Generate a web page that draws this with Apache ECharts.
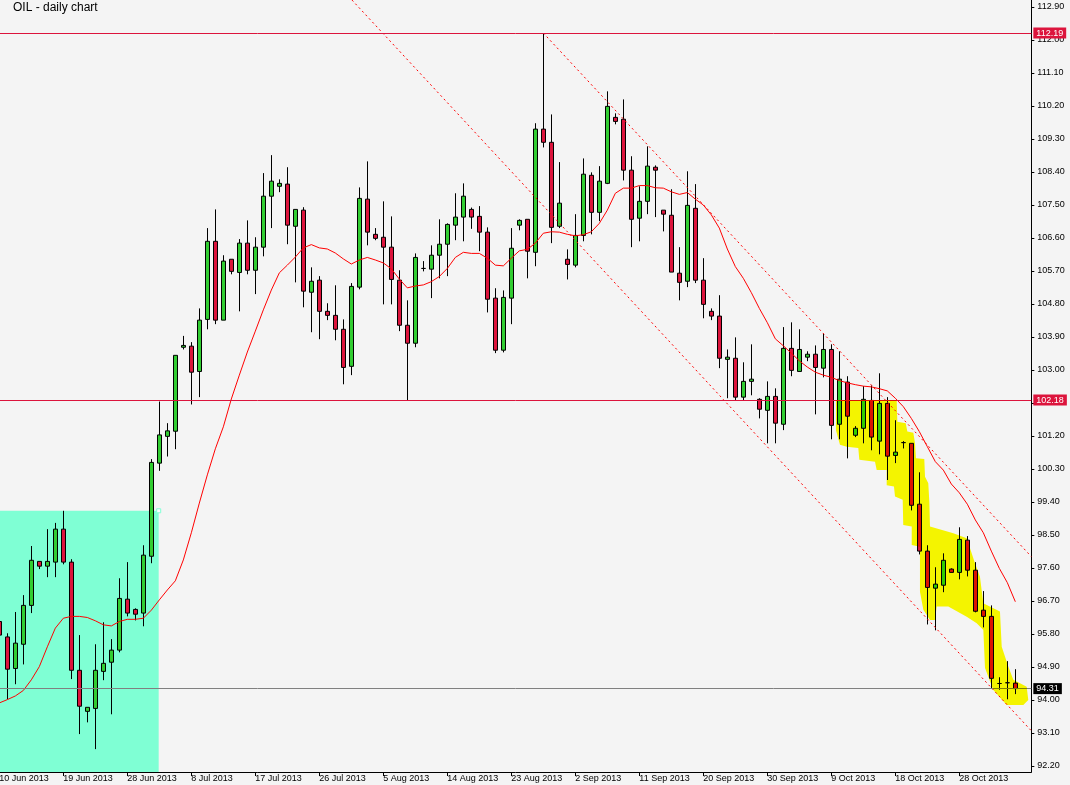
<!DOCTYPE html>
<html>
<head>
<meta charset="utf-8">
<script src="https://cdn.jsdelivr.net/npm/echarts@6/dist/echarts.min.js"></script>
<style>
html,body{margin:0;padding:0;background:#f4f4f4;}
#chart{width:1070px;height:785px;}
</style>
</head>
<body>
<div id="chart"></div>
<script>
// ---------- DATA ----------
const TITLE = 'OIL - daily chart';

const categories = [
 '10 Jun 2013','11 Jun 2013','12 Jun 2013','13 Jun 2013','14 Jun 2013','16 Jun 2013','17 Jun 2013','18 Jun 2013',
 '19 Jun 2013','20 Jun 2013','21 Jun 2013','23 Jun 2013','24 Jun 2013','25 Jun 2013','26 Jun 2013','27 Jun 2013',
 '28 Jun 2013','30 Jun 2013','1 Jul 2013','2 Jul 2013','3 Jul 2013','4 Jul 2013','5 Jul 2013','7 Jul 2013',
 '8 Jul 2013','9 Jul 2013','10 Jul 2013','11 Jul 2013','12 Jul 2013','14 Jul 2013','15 Jul 2013','16 Jul 2013',
 '17 Jul 2013','18 Jul 2013','19 Jul 2013','21 Jul 2013','22 Jul 2013','23 Jul 2013','24 Jul 2013','25 Jul 2013',
 '26 Jul 2013','28 Jul 2013','29 Jul 2013','30 Jul 2013','31 Jul 2013','1 Aug 2013','2 Aug 2013','4 Aug 2013',
 '5 Aug 2013','6 Aug 2013','7 Aug 2013','8 Aug 2013','9 Aug 2013','11 Aug 2013','12 Aug 2013','13 Aug 2013',
 '14 Aug 2013','15 Aug 2013','16 Aug 2013','18 Aug 2013','19 Aug 2013','20 Aug 2013','21 Aug 2013','22 Aug 2013',
 '23 Aug 2013','25 Aug 2013','26 Aug 2013','27 Aug 2013','28 Aug 2013','29 Aug 2013','30 Aug 2013','1 Sep 2013',
 '2 Sep 2013','3 Sep 2013','4 Sep 2013','5 Sep 2013','6 Sep 2013','8 Sep 2013','9 Sep 2013','10 Sep 2013',
 '11 Sep 2013','12 Sep 2013','13 Sep 2013','15 Sep 2013','16 Sep 2013','17 Sep 2013','18 Sep 2013','19 Sep 2013',
 '20 Sep 2013','22 Sep 2013','23 Sep 2013','24 Sep 2013','25 Sep 2013','26 Sep 2013','27 Sep 2013','29 Sep 2013',
 '30 Sep 2013','1 Oct 2013','2 Oct 2013','3 Oct 2013','4 Oct 2013','6 Oct 2013','7 Oct 2013','8 Oct 2013',
 '9 Oct 2013','10 Oct 2013','11 Oct 2013','13 Oct 2013','14 Oct 2013','15 Oct 2013','16 Oct 2013','17 Oct 2013',
 '18 Oct 2013','20 Oct 2013','21 Oct 2013','22 Oct 2013','23 Oct 2013','24 Oct 2013','25 Oct 2013','27 Oct 2013',
 '28 Oct 2013','29 Oct 2013','30 Oct 2013','31 Oct 2013','1 Nov 2013','3 Nov 2013','4 Nov 2013','5 Nov 2013'
];

const opens = [
 96.14,95.72,94.86,95.52,96.58,97.78,97.65,97.76,98.66,97.76,94.81,93.69,93.77,94.78,95.03,95.36,
 96.75,96.47,96.37,97.92,100.46,101.19,101.33,103.62,103.65,102.96,104.38,106.51,104.36,106.02,105.66,106.46,
 105.72,106.35,107.74,108.01,108.07,106.92,107.36,105.12,105.45,104.60,104.49,104.11,103.10,105.26,107.66,106.70,
 106.62,106.35,105.45,104.22,103.73,105.77,105.75,106.13,106.43,106.95,107.17,107.38,107.19,106.76,104.96,103.54,
 104.96,106.95,107.11,106.21,109.57,109.21,106.92,106.02,105.86,106.67,108.31,107.30,108.09,109.89,109.84,108.45,
 107.14,107.60,108.53,107.36,107.22,105.64,105.42,107.41,105.45,104.60,104.47,103.29,103.32,102.26,102.69,102.20,
 101.90,102.28,101.52,103.59,102.96,103.35,103.43,103.05,103.56,101.52,102.67,101.22,101.41,102.17,101.06,102.09,
 100.67,101.02,101.00,99.34,98.06,97.05,97.13,97.57,97.48,98.36,97.54,96.45,96.28,94.45,94.47,94.46
];
const closes = [
 95.77,94.84,95.55,96.58,97.81,97.65,97.78,98.66,97.76,94.81,93.83,93.80,94.81,95.00,95.36,96.77,
 96.37,96.34,97.95,100.48,101.23,101.34,103.40,103.67,102.94,104.36,106.51,104.36,105.97,105.69,106.46,105.72,
 106.35,107.74,108.15,108.09,106.95,107.38,105.15,105.42,104.60,104.49,104.11,103.07,105.28,107.68,106.76,106.59,
 106.35,105.47,104.22,103.73,106.07,105.77,106.13,106.43,106.97,107.17,107.74,107.17,106.76,104.93,103.54,104.98,
 106.32,107.08,106.24,109.57,109.21,106.89,107.55,105.88,106.67,108.34,107.30,108.15,110.19,109.78,108.45,107.11,
 107.60,108.56,108.45,107.25,105.67,105.39,107.49,105.45,104.79,104.47,103.32,103.35,102.26,102.69,102.75,101.93,
 102.28,101.55,103.59,102.99,103.56,103.43,103.07,103.56,101.49,102.75,101.74,101.41,102.20,101.17,102.09,100.65,
 100.76,101.02,99.31,98.06,97.07,97.16,97.81,97.48,98.38,97.54,96.42,96.28,94.59,94.45,94.47,94.31
];
const lows = [
 95.70,94.02,94.43,94.97,96.37,97.57,97.35,97.35,97.70,94.57,93.07,93.39,92.66,94.54,93.61,95.30,
 96.28,96.17,96.01,97.73,100.25,100.64,100.84,103.56,102.06,102.26,104.11,104.25,104.36,105.61,104.60,105.61,
 105.07,106.10,106.87,107.85,106.43,105.39,104.71,104.03,103.84,104.36,103.81,102.61,102.86,105.20,106.40,106.54,
 104.79,104.79,104.06,102.18,103.62,105.69,104.96,105.50,105.56,106.54,106.51,106.85,106.24,104.57,103.46,103.48,
 104.25,106.81,105.50,105.83,109.07,106.46,106.87,105.47,105.80,106.51,106.70,107.06,108.07,109.70,108.17,106.35,
 106.51,107.25,107.17,106.78,105.67,104.90,105.26,105.37,104.41,104.36,103.05,102.23,102.17,102.17,102.31,101.68,
 101.00,101.00,101.36,102.83,102.96,103.24,101.79,102.80,101.11,101.11,100.59,101.17,101.00,100.81,100.70,100.00,
 100.46,100.86,99.17,97.97,96.06,95.90,96.94,97.48,97.29,97.37,96.39,95.98,94.32,94.28,94.02,94.16
];
const highs = [
 96.30,95.82,96.40,96.86,98.20,97.78,98.66,98.83,99.16,97.84,95.77,93.80,95.52,96.12,95.66,97.32,
 97.76,96.50,98.22,100.57,102.14,101.55,103.40,103.93,103.76,104.68,106.87,107.38,106.13,106.02,106.57,107.08,
 106.62,108.37,108.86,108.20,108.53,107.38,107.44,105.80,105.56,104.82,105.31,104.38,105.37,107.98,108.69,106.87,
 107.60,107.19,105.72,104.90,106.18,105.97,106.40,107.11,107.00,107.82,108.09,107.43,107.47,106.89,105.23,105.17,
 106.87,107.11,107.11,109.73,112.19,109.97,108.67,106.29,107.25,108.77,108.39,108.56,110.60,110.00,110.38,108.83,
 108.01,109.10,108.58,107.36,107.93,106.35,108.42,108.07,106.05,104.68,105.04,103.56,103.89,103.21,103.70,102.23,
 102.69,102.50,104.17,104.30,104.11,103.51,103.67,103.99,103.70,103.51,102.83,101.47,102.56,102.58,102.91,102.26,
 101.63,101.06,101.00,100.21,98.22,97.62,98.00,97.59,98.71,98.47,97.76,96.97,96.58,94.62,95.06,94.84
];

// moving average (red line), one value per bar
const maValues = [
 93.92,94.01,94.11,94.26,94.55,94.91,95.45,95.96,96.23,96.28,96.28,96.25,96.16,96.05,96.02,96.14,
 96.20,96.20,96.23,96.45,96.73,97.00,97.25,97.82,98.56,99.37,100.14,100.85,101.45,102.21,102.86,103.49,
 104.06,104.64,105.18,105.65,105.86,106.08,106.33,106.42,106.33,106.30,106.19,106.03,105.89,106.00,106.07,106.00,
 105.92,105.76,105.48,105.24,105.29,105.32,105.41,105.55,105.77,106.07,106.21,106.18,106.18,106.05,105.86,105.84,
 106.05,106.25,106.29,106.46,106.73,106.77,106.76,106.70,106.66,106.69,106.77,107.00,107.36,107.82,107.96,107.96,
 108.03,108.03,107.97,107.96,107.86,107.79,107.84,107.66,107.50,107.23,106.87,106.30,105.82,105.50,105.11,104.68,
 104.29,103.85,103.66,103.46,103.25,103.08,102.94,102.86,102.80,102.71,102.65,102.60,102.56,102.54,102.49,102.43,
 102.23,102.00,101.68,101.32,100.91,100.50,100.27,99.89,99.65,99.34,98.91,98.56,98.06,97.59,97.20,96.68
];

// price axis
const Y_MIN = 92.036, Y_MAX = 113.091;
const yTicks = [92.20,93.10,94.00,94.90,95.80,96.70,97.60,98.50,99.40,100.30,101.20,102.10,
                103.00,103.90,104.80,105.70,106.60,107.50,108.40,109.30,110.20,111.10,112.00,112.90];

// horizontal levels
const levelValues = [112.19, 102.18, 94.31];
const levelLineColors = ['#dc143c', '#dc143c', '#808080'];
const levelBoxColors = ['#dc143c', '#dc143c', '#000000'];

// dotted channel lines: [bar index, price]
const lowerChannel = [[44.08, 113.09], [129, 93.16]];
const upperChannel = [[68.0, 112.19], [129, 97.91]];

// aquamarine box: bar range and price range
const boxBars = [-1, 19.92];
const boxPrices = [99.16, Y_MIN];

// yellow highlight outline: bar index / price
const hlBars = [104.58,112.17,112.25,113.30,113.50,114.25,114.46,114.58,115.62,115.71,116.12,116.25,116.33,119.25,120.92,
 121.96,122.58,122.99,125.08,125.30,126.12,126.75,128.42,128.62,128.00,125.92,124.25,123.21,123.00,122.17,120.92,118.62,
 117.17,116.96,116.33,115.50,115.08,115.08,114.05,114.05,112.99,112.92,111.96,111.83,110.92,110.92,109.67,109.46,107.50,
 107.37,105.92,105.08,104.58];
const hlPrices = [102.18,102.18,101.59,101.55,101.32,101.29,101.00,100.59,100.57,100.09,99.91,99.41,98.73,98.55,98.41,
 97.73,97.36,96.64,96.41,95.45,94.91,94.55,94.36,94.00,93.86,93.86,94.27,94.87,95.91,96.09,96.27,96.55,
 96.55,96.18,96.18,96.46,96.95,98.18,98.23,98.73,98.77,99.46,99.55,99.82,99.86,100.27,100.27,100.50,100.55,
 100.87,100.91,100.96,101.36];

// ---------- CHART ----------
const FONT = 'Liberation Sans';
const chart = echarts.init(document.getElementById('chart'), null, {renderer: 'canvas'});
const xCats = categories.concat(['', '']);
const showEvery8 = function (i, v) { return i % 8 === 0 && v !== ''; };

const option = {
  backgroundColor: '#f4f4f4',
  animation: false,
  textStyle: {fontFamily: FONT},
  title: {
    text: TITLE, left: 13, top: 2, padding: 0,
    textStyle: {fontSize: 12, fontWeight: 'normal', color: '#000', fontFamily: FONT}
  },
  grid: {left: -0.67, right: 38.67, top: 0, bottom: 13, containLabel: false, outerBoundsMode: 'none'},
  xAxis: [
    {
      type: 'category', data: xCats, boundaryGap: false,
      axisLine: {show: true, onZero: false, lineStyle: {color: '#000', width: 1}},
      axisTick: {show: true, interval: showEvery8, length: 4, lineStyle: {color: '#000'}},
      axisLabel: {interval: showEvery8, align: 'left', margin: 2, fontSize: 9, color: '#000',
                  fontFamily: FONT},
      splitLine: {show: false}
    },
    {type: 'value', min: 0, max: 129, show: false,
     axisLine: {show: false, onZero: false}, axisTick: {show: false}, axisLabel: {show: false},
     splitLine: {show: false}}
  ],
  yAxis: {
    type: 'value', position: 'right', min: Y_MIN, max: Y_MAX,
    axisLine: {show: true, onZero: false, lineStyle: {color: '#000', width: 1}},
    axisTick: {show: true, inside: false, customValues: yTicks, length: 3, lineStyle: {color: '#000'}},
    axisLabel: {customValues: yTicks, formatter: function (v) { return Number(v).toFixed(2); },
                fontSize: 9, color: '#000', margin: 6, fontFamily: FONT},
    splitLine: {show: false}
  },
  series: [
    {
      type: 'custom', name: 'box', xAxisIndex: 1, yAxisIndex: 0, z: 1, silent: true, clip: true,
      data: [[boxBars[0], boxPrices[0], boxBars[1], boxPrices[1]]],
      encode: {x: [0, 2], y: [1, 3]},
      renderItem: function (params, api) {
        const p0 = api.coord([api.value(0), api.value(1)]);
        const p1 = api.coord([api.value(2), api.value(3)]);
        return {
          type: 'group',
          children: [
            {type: 'rect', shape: {x: p0[0], y: p0[1], width: p1[0] - p0[0], height: p1[1] - p0[1]},
             style: {fill: '#7fffd4'}},
            {type: 'rect', shape: {x: p1[0] - 2, y: p0[1] - 2, width: 4, height: 4},
             style: {fill: '#ffffff', stroke: '#7fffd4', lineWidth: 1}}
          ]
        };
      }
    },
    {
      type: 'candlestick', name: 'OIL', xAxisIndex: 0, yAxisIndex: 0, z: 2,
      barWidth: 4,
      data: opens.map(function (o, i) { return [o, closes[i], lows[i], highs[i]]; }),
      itemStyle: {
        color: '#32cd32', color0: '#dc143c',
        borderColor: '#000', borderColor0: '#000', borderColorDoji: '#000', borderWidth: 1
      },
      emphasis: {disabled: true},
      markLine: {
        silent: true, symbol: ['none', 'none'], animation: false,
        data: levelValues.map(function (v, k) {
          return {
            yAxis: v,
            lineStyle: {color: levelLineColors[k], width: 1, type: 'solid'},
            label: {show: true, position: 'end', formatter: v.toFixed(2), color: '#fff',
                    backgroundColor: levelBoxColors[k], padding: [1, 3, 1, 3], fontSize: 9,
                    distance: 2, fontFamily: FONT}
          };
        })
      }
    },
    {
      type: 'line', name: 'MA', xAxisIndex: 1, yAxisIndex: 0, z: 3, silent: true,
      data: maValues.map(function (v, i) { return [i, v]; }),
      showSymbol: false, lineStyle: {color: '#ff0000', width: 1}
    },
    {
      type: 'line', name: 'lower', xAxisIndex: 1, yAxisIndex: 0, z: 3, silent: true,
      data: lowerChannel, showSymbol: false,
      lineStyle: {color: '#ff0000', width: 1, type: [2, 3]}
    },
    {
      type: 'line', name: 'upper', xAxisIndex: 1, yAxisIndex: 0, z: 3, silent: true,
      data: upperChannel, showSymbol: false,
      lineStyle: {color: '#ff0000', width: 1, type: [2, 3]}
    },
    {
      type: 'custom', name: 'highlight', xAxisIndex: 1, yAxisIndex: 0, z: 10, silent: true, clip: true,
      blendMode: 'multiply',
      data: hlBars.map(function (b, k) { return [b, hlPrices[k]]; }),
      encode: {x: 0, y: 1},
      renderItem: function (params, api) {
        if (params.dataIndex !== 0) return null;
        const pts = hlBars.map(function (b, k) { return api.coord([b, hlPrices[k]]); });
        return {type: 'polygon', shape: {points: pts},
                style: {fill: '#ffff00', blend: 'multiply'}};
      }
    }
  ]
};
chart.setOption(option);
</script>
</body>
</html>
